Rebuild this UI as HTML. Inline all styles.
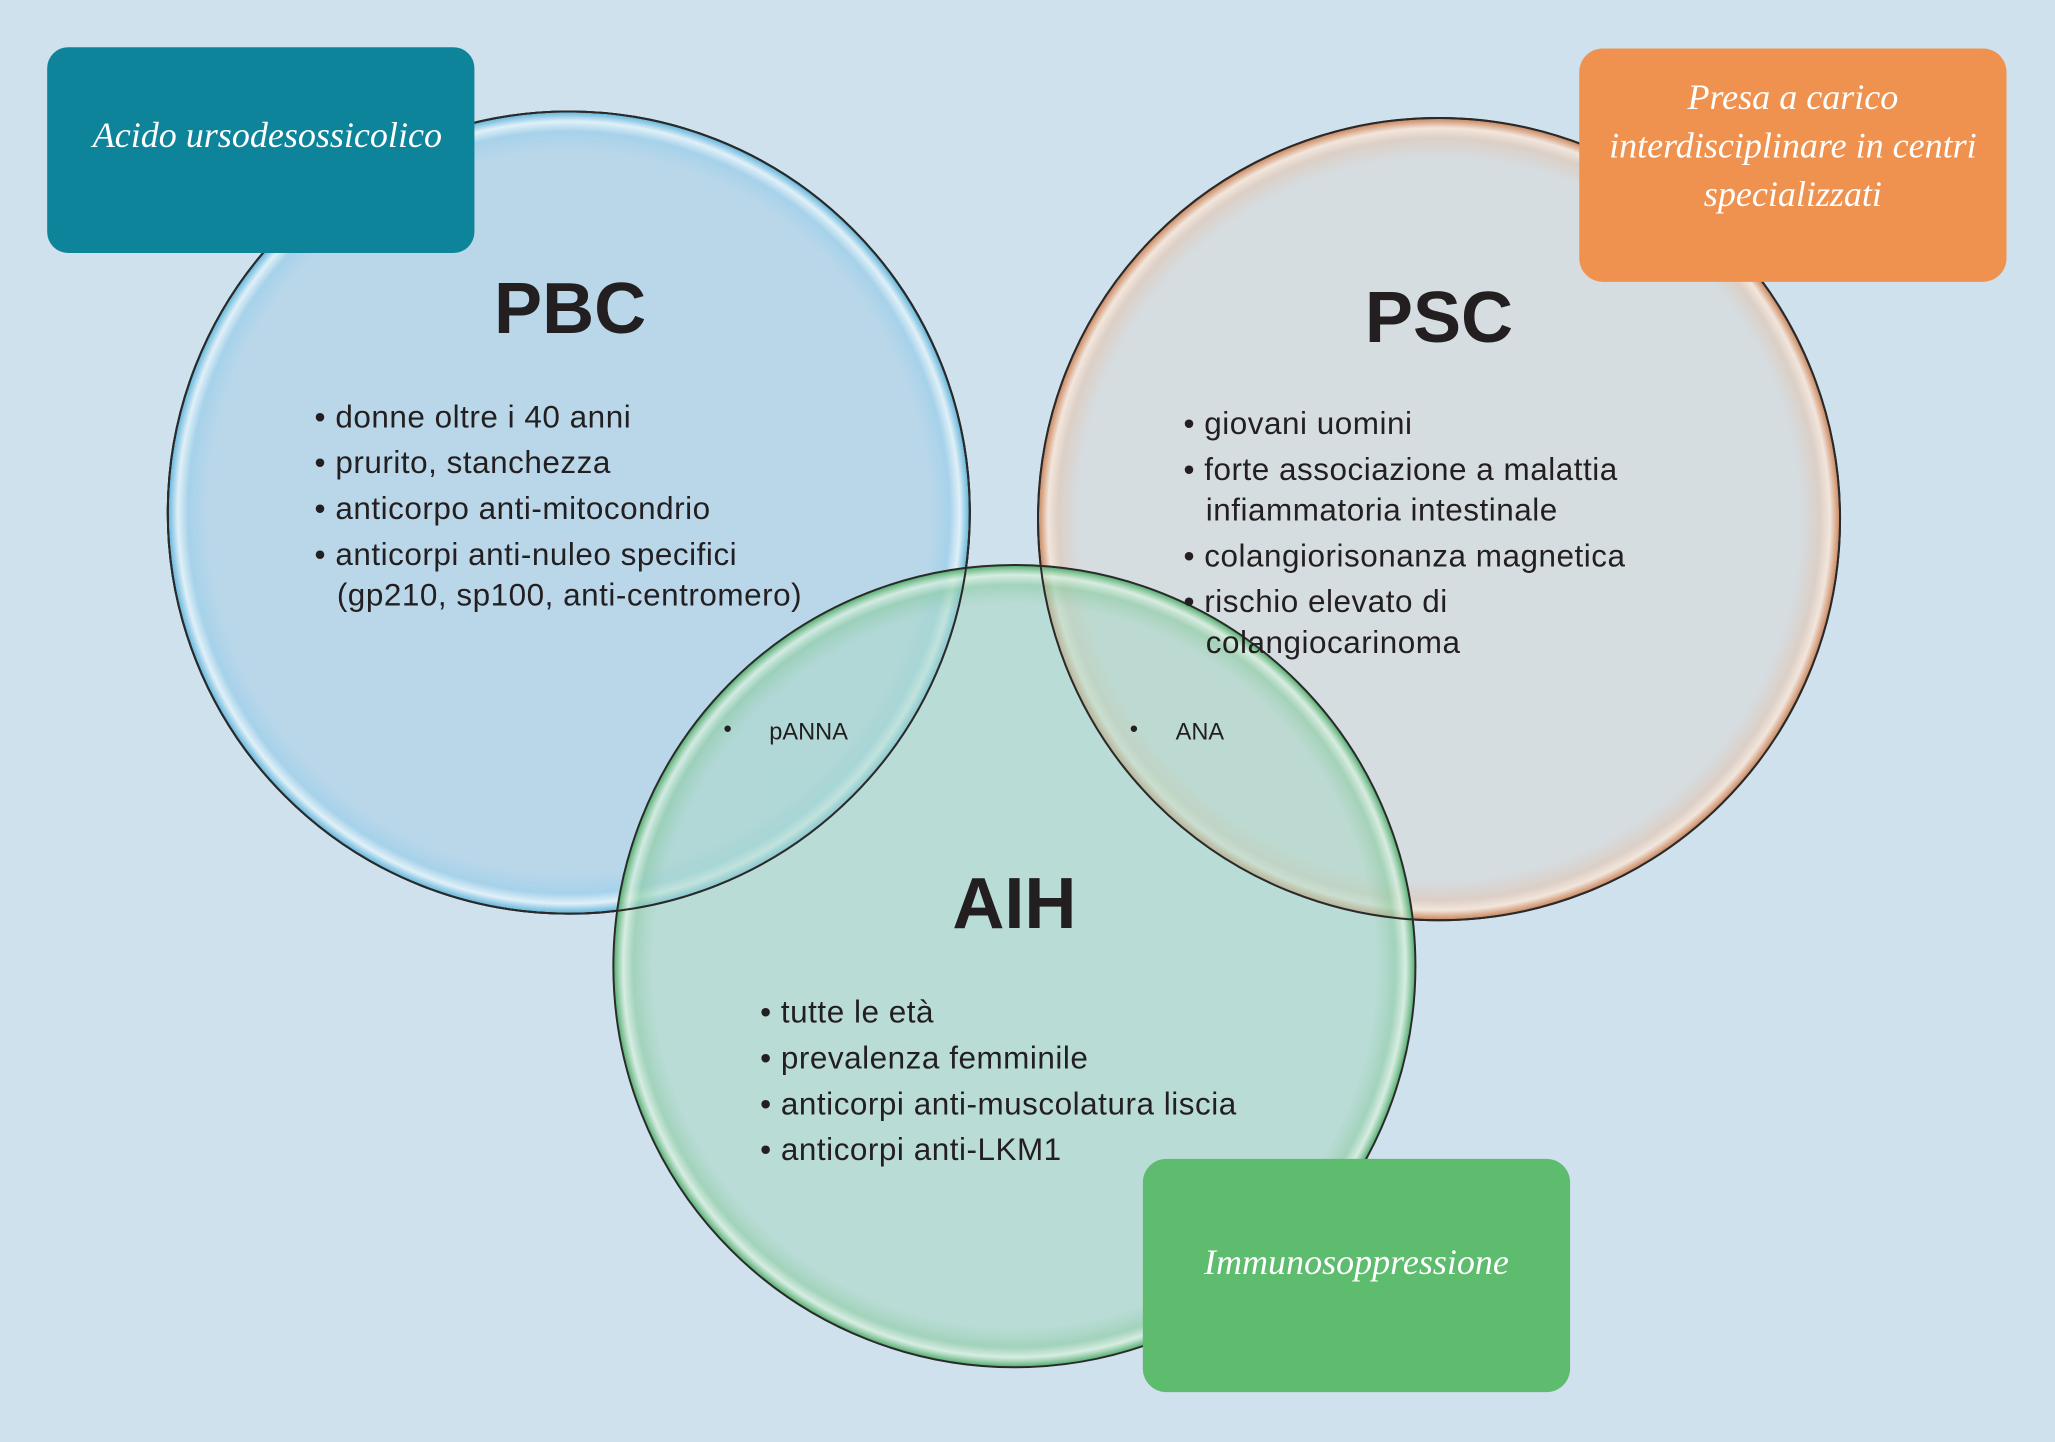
<!DOCTYPE html>
<html><head><meta charset="utf-8"><style>
html,body{margin:0;padding:0;background:#cfe1ec;}
svg{display:block}
</style></head><body>
<svg width="2055" height="1442" viewBox="0 0 1568 1100" preserveAspectRatio="none" xmlns="http://www.w3.org/2000/svg">
<defs>
<radialGradient id="gb" cx="0.5" cy="0.5" r="0.5">
<stop offset="0" stop-color="#bad7ea"/><stop offset="0.9" stop-color="#bad7ea"/><stop offset="0.95" stop-color="#a6d2ea"/><stop offset="0.975" stop-color="#e0f0f8"/><stop offset="1" stop-color="#5fb3da"/>
</radialGradient>
<radialGradient id="go" cx="0.5" cy="0.5" r="0.5">
<stop offset="0" stop-color="#d5dde1"/><stop offset="0.9" stop-color="#d5dde1"/><stop offset="0.95" stop-color="#dccfc6"/><stop offset="0.975" stop-color="#f2e6dc"/><stop offset="1" stop-color="#c9835a"/>
</radialGradient>
<radialGradient id="gg" cx="0.5" cy="0.5" r="0.5">
<stop offset="0" stop-color="#a9d8c6" stop-opacity="0.55"/><stop offset="0.9" stop-color="#a9d8c6" stop-opacity="0.55"/><stop offset="0.95" stop-color="#8fcda6" stop-opacity="0.7"/><stop offset="0.975" stop-color="#d8f0e0" stop-opacity="0.8"/><stop offset="1" stop-color="#4daa6a"/>
</radialGradient>
</defs>
<rect width="1568" height="1100" fill="#cfe1ec"/>
<circle cx="434" cy="391" r="306" fill="url(#gb)" stroke="#2a2a2a" stroke-width="1.5"/>
<circle cx="1098" cy="396" r="306" fill="url(#go)" stroke="#2a2a2a" stroke-width="1.5"/>
<circle cx="434" cy="391" r="306" fill="none" stroke="#2a2a2a" stroke-width="1.5"/>
<circle cx="774" cy="737" r="306" fill="url(#gg)" stroke="#2a2a2a" stroke-width="1.5"/>
<circle cx="1098" cy="396" r="306" fill="none" stroke="#2a2a2a" stroke-width="1.5"/>
<circle cx="434" cy="391" r="306" fill="none" stroke="#2a2a2a" stroke-width="1.5"/>

<g font-family="Liberation Sans, sans-serif" fill="#231f20">
<text x="435" y="254" font-size="55" font-weight="bold" text-anchor="middle">PBC</text>
<text x="1098" y="261" font-size="55" font-weight="bold" text-anchor="middle">PSC</text>
<text x="774" y="708" font-size="55" font-weight="bold" text-anchor="middle">AIH</text>
<g font-size="24" letter-spacing="0.4">
<text x="240" y="326">• donne oltre i 40 anni</text>
<text x="240" y="361">• prurito, stanchezza</text>
<text x="240" y="396">• anticorpo anti-mitocondrio</text>
<text x="240" y="431">• anticorpi anti-nuleo specifici</text>
<text x="257" y="462">(gp210, sp100, anti-centromero)</text>
<text x="903" y="331">• giovani uomini</text>
<text x="903" y="366">• forte associazione a malattia</text>
<text x="920" y="397">infiammatoria intestinale</text>
<text x="903" y="432">• colangiorisonanza magnetica</text>
<text x="903" y="467">• rischio elevato di</text>
<text x="920" y="498">colangiocarinoma</text>
<text x="580" y="780">• tutte le età</text>
<text x="580" y="815">• prevalenza femminile</text>
<text x="580" y="850">• anticorpi anti-muscolatura liscia</text>
<text x="580" y="885">• anticorpi anti-LKM1</text>
</g>
<g font-size="18">
<text x="552" y="562">•</text><text x="587" y="564">pANNA</text>
<text x="862" y="562">•</text><text x="897" y="564">ANA</text>
</g>
</g>

<rect x="36" y="36" width="326" height="157" rx="16" fill="#0e849a"/>
<rect x="1205" y="37" width="326" height="178" rx="18" fill="#f0924f"/>
<rect x="872" y="884" width="326" height="178" rx="18" fill="#5dbc6e"/>
<g font-family="Liberation Serif, serif" font-style="italic" fill="#ffffff" font-size="27.5" text-anchor="middle">
<text x="204" y="112">Acido ursodesossicolico</text>
<text x="1368" y="83">Presa a carico</text>
<text x="1368" y="120">interdisciplinare in centri</text>
<text x="1368" y="157">specializzati</text>
<text x="1035" y="972">Immunosoppressione</text>
</g>
</svg>
</body></html>
